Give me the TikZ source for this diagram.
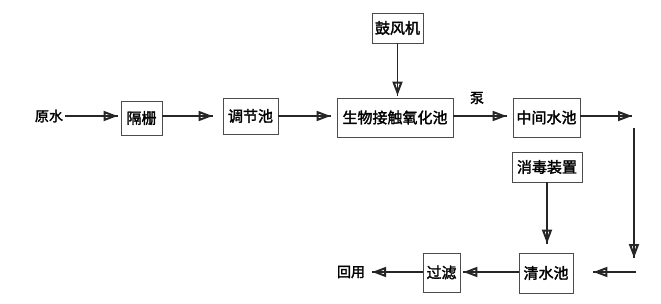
\documentclass[tikz,border=0pt]{standalone}
\usepackage{fontspec}
\newfontfamily\cjk{Noto Sans CJK SC}[FakeBold=2]
\usetikzlibrary{arrows.meta}
\tikzset{
  box/.style={draw=black!70, line width=0.9pt, fill=white, inner sep=0pt, font=\cjk\fontsize{15}{15}\selectfont},
  lbl/.style={inner sep=0pt, font=\cjk\fontsize{14}{14}\selectfont},
  flow/.style={draw=black!85, line width=1.2pt, -{Triangle[open,length=14pt,width=10pt,line width=2pt]}, postaction={draw,-}},
}
\begin{document}
\begin{tikzpicture}[x=1pt,y=-1pt]
\useasboundingbox (0,0) rectangle (661,303);
\node[lbl] (raw) at (49,116) {原水};
\node[box, minimum width=41pt, minimum height=34pt] (grid) at (141.5,118) {隔栅};
\node[box, minimum width=55pt, minimum height=36pt] (adj) at (250.5,116) {调节池};
\node[box, minimum width=51pt, minimum height=30pt] (blow) at (397.5,28) {鼓风机};
\node[box, minimum width=116pt, minimum height=39pt] (bio) at (395,117.5) {生物接触氧化池};
\node[lbl] (pump) at (477,98) {泵};
\node[box, minimum width=67pt, minimum height=39pt] (mid) at (546.5,117.5) {中间水池};
\node[box, minimum width=70pt, minimum height=30pt] (dis) at (547,167) {消毒装置};
\node[box, minimum width=54pt, minimum height=40pt] (clear) at (546,273) {清水池};
\node[box, minimum width=37pt, minimum height=39pt] (filt) at (441.5,272.5) {过滤};
\node[lbl] (reuse) at (351,272) {回用};
\coordinate (c0) at (632,116);
\coordinate (c1) at (634,128);
\coordinate (c2) at (634,258);
\coordinate (c3) at (636,272);
\draw[flow, shorten >=3pt] ([xshift=2pt]raw.east) -- (raw.east -| grid.west);
\draw[flow, shorten >=10pt] (grid.east |- 0,116) -- (adj.west);
\draw[flow, shorten >=6pt] (adj.east) -- (adj.east -| bio.west);
\draw[flow, shorten >=2pt] (blow.south) -- (blow.south |- bio.north);
\draw[flow, shorten >=6pt] (bio.east |- 0,116) -- (mid.west |- 0,116);
\draw[flow] (mid.east |- c0) -- (c0);
\draw[flow] (c1) -- (c2);
\draw[flow, shorten >=20pt] (c3) -- (clear.east |- c3);
\draw[flow, shorten >=9pt] (dis.south) -- (dis.south |- clear.north);
\draw[flow, shorten >=3pt] (clear.west |- 0,272) -- (filt.east |- 0,272);
\draw[flow, shorten >=7pt] (filt.west |- 0,272) -- (reuse.east);
\end{tikzpicture}
\end{document}
